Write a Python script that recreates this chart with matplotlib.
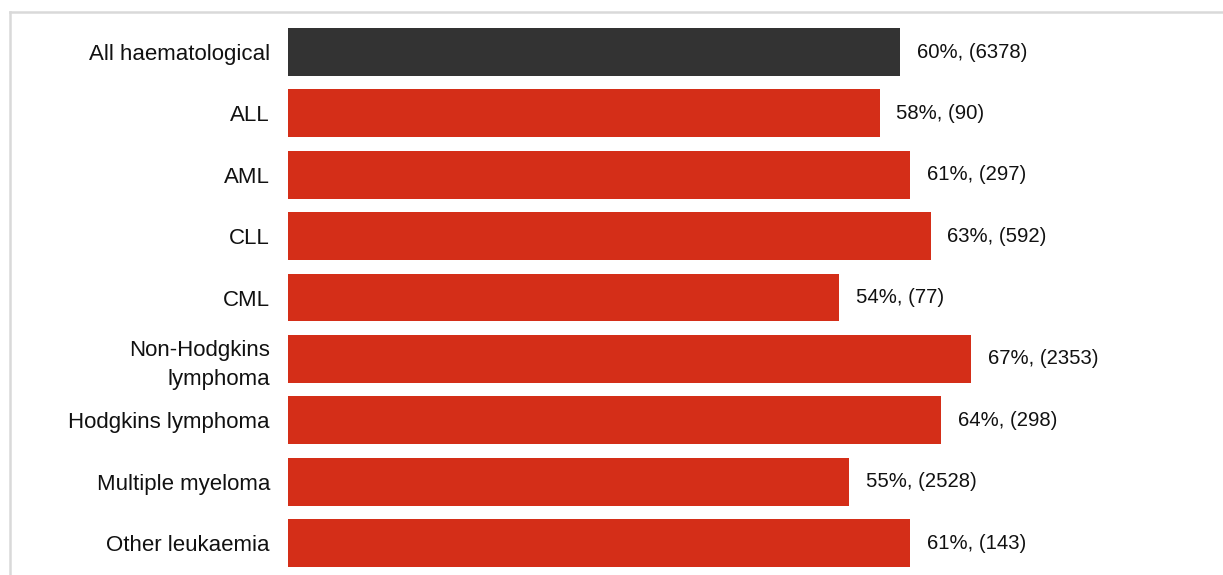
import matplotlib.pyplot as plt
from matplotlib.lines import Line2D

plt.rcParams['font.family'] = ['Liberation Sans', 'DejaVu Sans']

categories = ['All haematological', 'ALL', 'AML', 'CLL', 'CML',
              'Non-Hodgkins\nlymphoma', 'Hodgkins lymphoma',
              'Multiple myeloma', 'Other leukaemia']
percent = [60, 58, 61, 63, 54, 67, 64, 55, 61]
counts = [6378, 90, 297, 592, 77, 2353, 298, 2528, 143]

dark = '#333333'
red = '#d42e18'
colors = [dark] + [red] * (len(categories) - 1)

W, H = 1223, 575
fig = plt.figure(figsize=(W / 100, H / 100), dpi=100)

# axes: zero line at x=288px, 10.2 px per percentage point
left_px, top_px = 288, 11
ax = fig.add_axes([left_px / W, 0, 1 - left_px / W, 1 - top_px / H])
ax.set_xlim(0, (W - left_px) / 10.2)
ax.set_ylim(8.52, -0.668)

ypos = list(range(len(categories)))
ax.barh(ypos, percent, height=0.78, color=colors, left=0)

for y, p, n in zip(ypos, percent, counts):
    ax.text(p + 1.65, y, f'{p}%, ({n})', va='center', ha='left', fontsize=14.6, color='#111111')

ax.set_yticks(ypos)
ax.set_yticklabels(categories, fontsize=16, color='#111111', linespacing=1.5)
ax.tick_params(axis='y', length=0, pad=13)
ax.set_xticks([])
for s in ax.spines.values():
    s.set_visible(False)

# light frame lines along top and left
fig.add_artist(Line2D([10 / W, 1], [1 - 11.5 / H, 1 - 11.5 / H], color='#d9d9d9', lw=1.8,
                      transform=fig.transFigure))
fig.add_artist(Line2D([10.5 / W, 10.5 / W], [0, 1 - 11.5 / H], color='#d9d9d9', lw=1.8,
                      transform=fig.transFigure))

fig.savefig('out.png', dpi=100)
